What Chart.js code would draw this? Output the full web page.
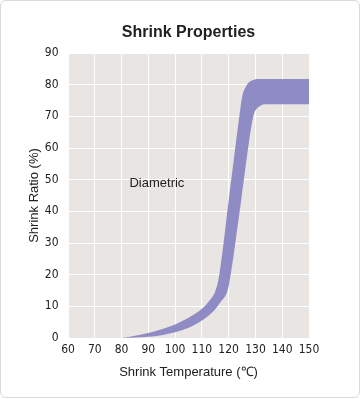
<!DOCTYPE html>
<html>
<head>
<meta charset="utf-8">
<script src="https://cdn.jsdelivr.net/npm/chart.js@4.4.0/dist/chart.umd.min.js"></script>
<style>
    html, body { margin: 0; padding: 0; background: #fff; }
    .card {
        position: absolute; left: 0; top: 0;
        width: 358px; height: 396px;
        border: 1px solid #dadada; border-radius: 6px;
    }
    #chart { position: absolute; left: 0; top: 0; }
</style>
</head>
<body>
<div class="card"></div>
<canvas id="chart" width="360" height="399"></canvas>
<script>
// Upper / left edge of the band
const upperTemp  = [80, 85, 90, 95, 100, 105, 110, 113, 115, 116.3, 120.3, 124.3, 125, 126.5, 128.5, 131, 135, 150];
const upperRatio = [0, 0.7, 1.6, 2.8, 4.3, 6.4, 9.2, 12, 14.8, 19, 45.5, 72, 76, 79.5, 81.2, 81.8, 81.8, 81.8];

// Lower / right edge of the band
const lowerTemp  = [80, 85, 90, 95, 100, 105, 110, 114, 117, 119.3, 120.2, 124.7, 129.2, 130.3, 131.8, 134, 150];
const lowerRatio = [0, 0.15, 0.4, 0.9, 1.8, 3.2, 5.5, 8.2, 11.4, 14.3, 17.3, 43.6, 70, 72.2, 73.3, 73.8, 73.8];

const tempTicks  = [60, 70, 80, 90, 100, 110, 120, 130, 140, 150];
const ratioTicks = [0, 10, 20, 30, 40, 50, 60, 70, 80, 90];

const bandLabel = { text: 'Diametric', x: 93.2, y: 48.9 };

const bandColor = '#8f8bc4';
const plotBg = '#e8e5e2';
const tickFont = { family: "'Liberation Sans Narrow', 'DejaVu Sans Condensed', sans-serif", size: 12 };
const textFont = "'Liberation Sans', Arial, sans-serif";

function toPoints(xs, ys) {
    return xs.map((x, i) => ({ x: x, y: ys[i] }));
}

// Plot area background + label inside the plot
const plotDecor = {
    id: 'plotDecor',
    beforeDraw(chart) {
        const a = chart.chartArea;
        const ctx = chart.ctx;
        ctx.save();
        ctx.fillStyle = plotBg;
        ctx.fillRect(a.left, a.top, a.right - a.left, a.bottom - a.top);
        ctx.restore();
    },
    afterDatasetsDraw(chart) {
        const ctx = chart.ctx;
        const xs = chart.scales.x, ys = chart.scales.y;
        ctx.save();
        ctx.font = '13px ' + textFont;
        ctx.fillStyle = '#222';
        ctx.textAlign = 'center';
        ctx.textBaseline = 'middle';
        ctx.fillText(bandLabel.text, xs.getPixelForValue(bandLabel.x), ys.getPixelForValue(bandLabel.y));
        ctx.restore();
    }
};

new Chart(document.getElementById('chart'), {
    type: 'line',
    data: {
        datasets: [
            {
                label: 'lower',
                data: toPoints(lowerTemp, lowerRatio),
                borderWidth: 0,
                pointRadius: 0,
                fill: false,
                cubicInterpolationMode: 'monotone'
            },
            {
                label: 'upper',
                data: toPoints(upperTemp, upperRatio),
                borderWidth: 0,
                pointRadius: 0,
                backgroundColor: bandColor,
                fill: '-1',
                cubicInterpolationMode: 'monotone'
            }
        ]
    },
    options: {
        responsive: false,
        animation: false,
        layout: { padding: { left: 27, right: 51, top: 0, bottom: 19 } },
        plugins: {
            legend: { display: false },
            tooltip: { enabled: false },
            title: {
                display: true,
                text: 'Shrink Properties',
                fullSize: false,
                color: '#222',
                font: { family: textFont, size: 16, weight: 'bold' },
                padding: { top: 23.4, bottom: 10.4 }
            }
        },
        scales: {
            x: {
                type: 'linear',
                min: 60,
                max: 150,
                afterBuildTicks: (s) => { s.ticks = tempTicks.map(v => ({ value: v })); },
                afterFit: (s) => { s.height = 42; },
                grid: { color: '#ffffff', lineWidth: 1, drawTicks: false },
                border: { display: false },
                ticks: { color: '#222', font: tickFont, padding: 5, maxRotation: 0, autoSkip: false },
                title: {
                    display: true,
                    text: 'Shrink Temperature (℃)',
                    color: '#222',
                    font: { family: textFont, size: 13 },
                    padding: 0
                }
            },
            y: {
                min: 0,
                max: 90,
                afterBuildTicks: (s) => { s.ticks = ratioTicks.map(v => ({ value: v })); },
                afterFit: (s) => { s.width = 41; },
                grid: { color: '#ffffff', lineWidth: 1, drawTicks: false },
                border: { display: false },
                ticks: { color: '#222', font: tickFont, padding: 9.5, autoSkip: false },
                title: {
                    display: true,
                    text: 'Shrink Ratio (%)',
                    color: '#222',
                    font: { family: textFont, size: 13 },
                    padding: 0
                }
            }
        }
    },
    plugins: [plotDecor]
});
</script>
</body>
</html>
